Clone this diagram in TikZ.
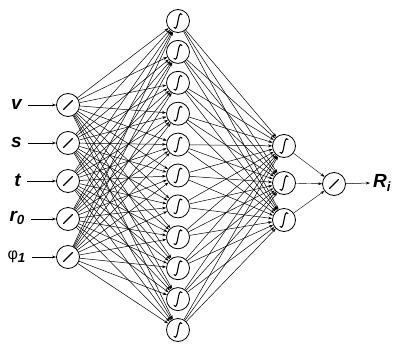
\documentclass[tikz,border=0pt]{standalone}
\usepackage{fontspec}
\setmainfont{Liberation Sans}
\usetikzlibrary{arrows.meta}
\begin{document}
\begin{tikzpicture}[x=1pt,y=-1pt,
  neuron/.style={circle,draw,line width=0.8pt,minimum size=23pt,inner sep=0pt,fill=white},
  linn/.style={neuron,path picture={\draw[line width=1.3pt,line cap=round]
     ([shift={(-4.5pt,-4.5pt)}]path picture bounding box.center) --
     ([shift={(4.5pt,4.5pt)}]path picture bounding box.center);}},
  sign/.style={neuron,path picture={\draw[line width=1.1pt,line cap=round]
     ([shift={(-4pt,-6.5pt)}]path picture bounding box.center)
     .. controls ([shift={(-1.5pt,-9pt)}]path picture bounding box.center)
     and ([shift={(-1pt,-5pt)}]path picture bounding box.center)
     .. ([shift={(0pt,0pt)}]path picture bounding box.center)
     .. controls ([shift={(1pt,5pt)}]path picture bounding box.center)
     and ([shift={(1.5pt,9pt)}]path picture bounding box.center)
     .. ([shift={(4pt,6.5pt)}]path picture bounding box.center);}},
  conn/.style={line width=0.5pt,-{Stealth[length=4pt,width=2.8pt]}},
  lbl/.style={font=\bfseries\itshape\fontsize{19}{19}\selectfont,inner sep=0pt}]
\useasboundingbox (0,0) rectangle (404,345);
\fill[white] (0,0) rectangle (404,345);
% input layer
\foreach \i/\y in {1/105,2/143,3/181,4/219,5/257}
  \node[linn] (in\i) at (68,\y) {};
% hidden layer 1
\foreach \j in {1,...,11}
  \node[sign] (h\j) at (178,{21+30.9*(\j-1)}) {};
% hidden layer 2
\foreach \k/\y in {1/146,2/183,3/220}
  \node[sign] (g\k) at (284,\y) {};
% output
\node[linn] (out) at (334,184) {};
% labels
\node[lbl,anchor=east] (lv) at (22,104) {v};
\node[lbl,anchor=east] (ls) at (22,142) {s};
\node[lbl,anchor=east] (lt) at (21,180) {t};
\node[lbl,anchor=east] (lr) at (25,218) {r\textsubscript{0}};
\node[lbl,anchor=east] (lp) at (26,257) {{\mdseries\upshape\fontsize{16}{16}\selectfont φ}\textsubscript{1}};
\node[lbl,anchor=west] (lR) at (373,183) {R\textsubscript{i}};
% connectors
\foreach \l/\i in {lv/1,ls/2,lt/3,lr/4,lp/5}
  \draw[conn] ([xshift=6pt]\l.east |- in\i) -- (in\i);
\foreach \i in {1,...,5}
  \foreach \j in {1,...,11}
    \draw[conn] (in\i) -- (h\j);
\foreach \j in {1,...,11}
  \foreach \k in {1,...,3}
    \draw[conn] (h\j) -- (g\k);
\foreach \k in {1,...,3}
  \draw[conn,line width=0.4pt] (g\k) -- (out);
\draw[conn] (out) -- ([xshift=-3pt]lR.west);
\end{tikzpicture}
\end{document}
